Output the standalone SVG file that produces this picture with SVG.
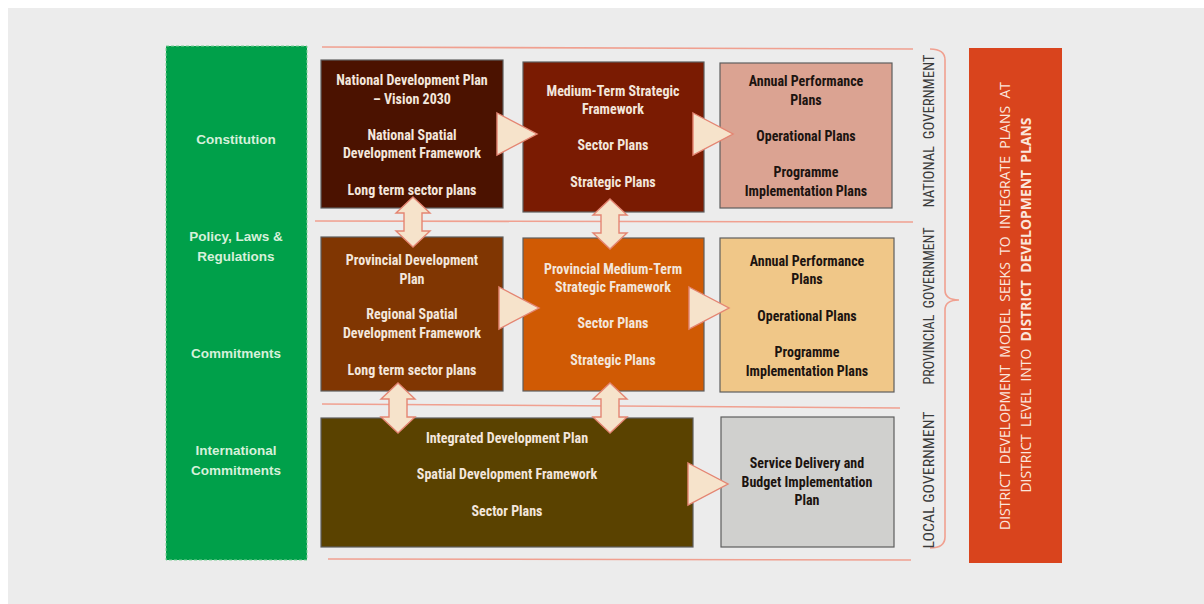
<svg xmlns="http://www.w3.org/2000/svg" xmlns:xlink="http://www.w3.org/1999/xlink" width="1204" height="604" viewBox="0 0 1204 604">
<style>
.bt{font-family:"Liberation Sans Narrow","Roboto Condensed","Liberation Sans",Arial,sans-serif;font-weight:bold;font-size:14px;text-anchor:middle}
.lt{fill:#f3e6dc}
.dk{fill:#1c1410}
.gt{font-family:"Liberation Sans",Arial,sans-serif;font-weight:bold;font-size:13.5px;fill:#d6f0da;text-anchor:middle}
.vt{font-family:"Liberation Sans Narrow","Roboto Condensed","Liberation Sans",Arial,sans-serif;font-size:14px;fill:#3a3a3a;text-anchor:middle}
.rt{font-family:"Open Sans","Liberation Sans",Arial,sans-serif;font-size:15px;fill:#fbe6dc;text-anchor:middle}
.box{stroke:#5e5e5e;stroke-width:1.2}
.sep{stroke:#f0a090;stroke-width:1.6;fill:none}
.arr{fill:#f6e3cb;stroke:#e48572;stroke-width:1.4;stroke-linejoin:miter}
</style>
<defs>
<path id="tri" d="M0,-21 L40,0 L0,21 Z"/>
<path id="dbl" d="M0,-25 L17,-9 L9,-9 L9,9 L17,9 L0,25 L-17,9 L-9,9 L-9,-9 L-17,-9 Z"/>
</defs>
<rect x="0" y="0" width="1204" height="604" fill="#ffffff"/>
<rect x="8" y="8" width="1196" height="596" fill="#ececec"/>

<g id="separators">
<line class="sep" x1="322" y1="47" x2="913" y2="49"/>
<line class="sep" x1="315" y1="221" x2="913" y2="222"/>
<line class="sep" x1="322" y1="404" x2="900" y2="408"/>
<line class="sep" x1="328" y1="559" x2="911" y2="560"/>
<path class="sep" d="M930,49 Q945,49 945,60 L945,290 Q945,300 959,300 Q945,300 945,310 L945,537 Q945,548 930,548"/>
</g>

<g id="sources">
<rect x="166" y="46" width="141" height="514" fill="#00a04a" stroke="#7fcf98" stroke-width="1" stroke-dasharray="3,2"/>
<text class="gt" x="236" y="144">Constitution</text>
<text class="gt" x="236" y="241">Policy, Laws &amp;</text>
<text class="gt" x="236" y="261">Regulations</text>
<text class="gt" x="236" y="358">Commitments</text>
<text class="gt" x="236" y="455">International</text>
<text class="gt" x="236" y="475">Commitments</text>
</g>

<g id="ndp">
<rect class="box" x="321" y="60" width="182" height="148" fill="#4b1200"/>
<text class="bt lt" x="412" y="85">National Development Plan</text>
<text class="bt lt" x="412" y="104">– Vision 2030</text>
<text class="bt lt" x="412" y="140">National Spatial</text>
<text class="bt lt" x="412" y="158">Development Framework</text>
<text class="bt lt" x="412" y="195">Long term sector plans</text>
</g>

<g id="mtsf">
<rect class="box" x="523" y="62" width="181" height="150" fill="#7a1b02"/>
<text class="bt lt" x="613" y="96">Medium-Term Strategic</text>
<text class="bt lt" x="613" y="114">Framework</text>
<text class="bt lt" x="613" y="150">Sector Plans</text>
<text class="bt lt" x="613" y="187">Strategic Plans</text>
</g>

<g id="national-app">
<rect class="box" x="720" y="63" width="172" height="145" fill="#dba392" stroke="#7a7a7a"/>
<text class="bt dk" x="806" y="86">Annual Performance</text>
<text class="bt dk" x="806" y="105">Plans</text>
<text class="bt dk" x="806" y="141">Operational Plans</text>
<text class="bt dk" x="806" y="177">Programme</text>
<text class="bt dk" x="806" y="196">Implementation Plans</text>
</g>

<g id="pdp">
<rect class="box" x="321" y="237" width="182" height="154" fill="#803602"/>
<text class="bt lt" x="412" y="265">Provincial Development</text>
<text class="bt lt" x="412" y="284">Plan</text>
<text class="bt lt" x="412" y="319">Regional Spatial</text>
<text class="bt lt" x="412" y="338">Development Framework</text>
<text class="bt lt" x="412" y="375">Long term sector plans</text>
</g>

<g id="pmtsf">
<rect class="box" x="523" y="238" width="181" height="153" fill="#d05a04"/>
<text class="bt lt" x="613" y="274">Provincial Medium-Term</text>
<text class="bt lt" x="613" y="292">Strategic Framework</text>
<text class="bt lt" x="613" y="328">Sector Plans</text>
<text class="bt lt" x="613" y="365">Strategic Plans</text>
</g>

<g id="provincial-app">
<rect class="box" x="720" y="238" width="174" height="154" fill="#f0c788" stroke="#7a7a7a"/>
<text class="bt dk" x="807" y="266">Annual Performance</text>
<text class="bt dk" x="807" y="284">Plans</text>
<text class="bt dk" x="807" y="321">Operational Plans</text>
<text class="bt dk" x="807" y="357">Programme</text>
<text class="bt dk" x="807" y="376">Implementation Plans</text>
</g>

<g id="idp">
<rect class="box" x="321" y="418" width="372" height="129" fill="#5a4200"/>
<text class="bt lt" x="507" y="443">Integrated Development Plan</text>
<text class="bt lt" x="507" y="479">Spatial Development Framework</text>
<text class="bt lt" x="507" y="516">Sector Plans</text>
</g>

<g id="sdbip">
<rect class="box" x="721" y="417" width="173" height="130" fill="#d0d0ce" stroke="#7a7a7a"/>
<text class="bt dk" x="807" y="468">Service Delivery and</text>
<text class="bt dk" x="807" y="487">Budget Implementation</text>
<text class="bt dk" x="807" y="505">Plan</text>
</g>

<g id="sphere-labels">
<text class="vt" transform="translate(934,131) rotate(-90)" textLength="153" lengthAdjust="spacingAndGlyphs" xml:space="preserve">NATIONAL  GOVERNMENT</text>
<text class="vt" transform="translate(934,306) rotate(-90)" textLength="157" lengthAdjust="spacingAndGlyphs" xml:space="preserve">PROVINCIAL  GOVERNMENT</text>
<text class="vt" transform="translate(934,480) rotate(-90)" textLength="137" lengthAdjust="spacingAndGlyphs">LOCAL GOVERNMENT</text>
</g>

<g id="ddm">
<rect x="969" y="48" width="93" height="515" fill="#d9441d"/>
<text class="rt" transform="translate(1010,306) rotate(-90)" textLength="448" lengthAdjust="spacingAndGlyphs" xml:space="preserve">DISTRICT  DEVELOPMENT  MODEL  SEEKS  TO  INTEGRATE  PLANS  AT</text>
<text class="rt" transform="translate(1031,305) rotate(-90)" textLength="375" lengthAdjust="spacingAndGlyphs" xml:space="preserve">DISTRICT  LEVEL  INTO  <tspan font-weight="bold">DISTRICT  DEVELOPMENT  PLANS</tspan></text>
</g>

<g id="connectors">
<use xlink:href="#tri" href="#tri" class="arr" x="497" y="134"/>
<use xlink:href="#tri" href="#tri" class="arr" x="693" y="134"/>
<use xlink:href="#tri" href="#tri" class="arr" x="499" y="308"/>
<use xlink:href="#tri" href="#tri" class="arr" x="689" y="308"/>
<use xlink:href="#tri" href="#tri" class="arr" x="688" y="484"/>
<use xlink:href="#dbl" href="#dbl" class="arr" x="413" y="222"/>
<use xlink:href="#dbl" href="#dbl" class="arr" x="610" y="224"/>
<use xlink:href="#dbl" href="#dbl" class="arr" x="398" y="408"/>
<use xlink:href="#dbl" href="#dbl" class="arr" x="610" y="408"/>
</g>
</svg>
